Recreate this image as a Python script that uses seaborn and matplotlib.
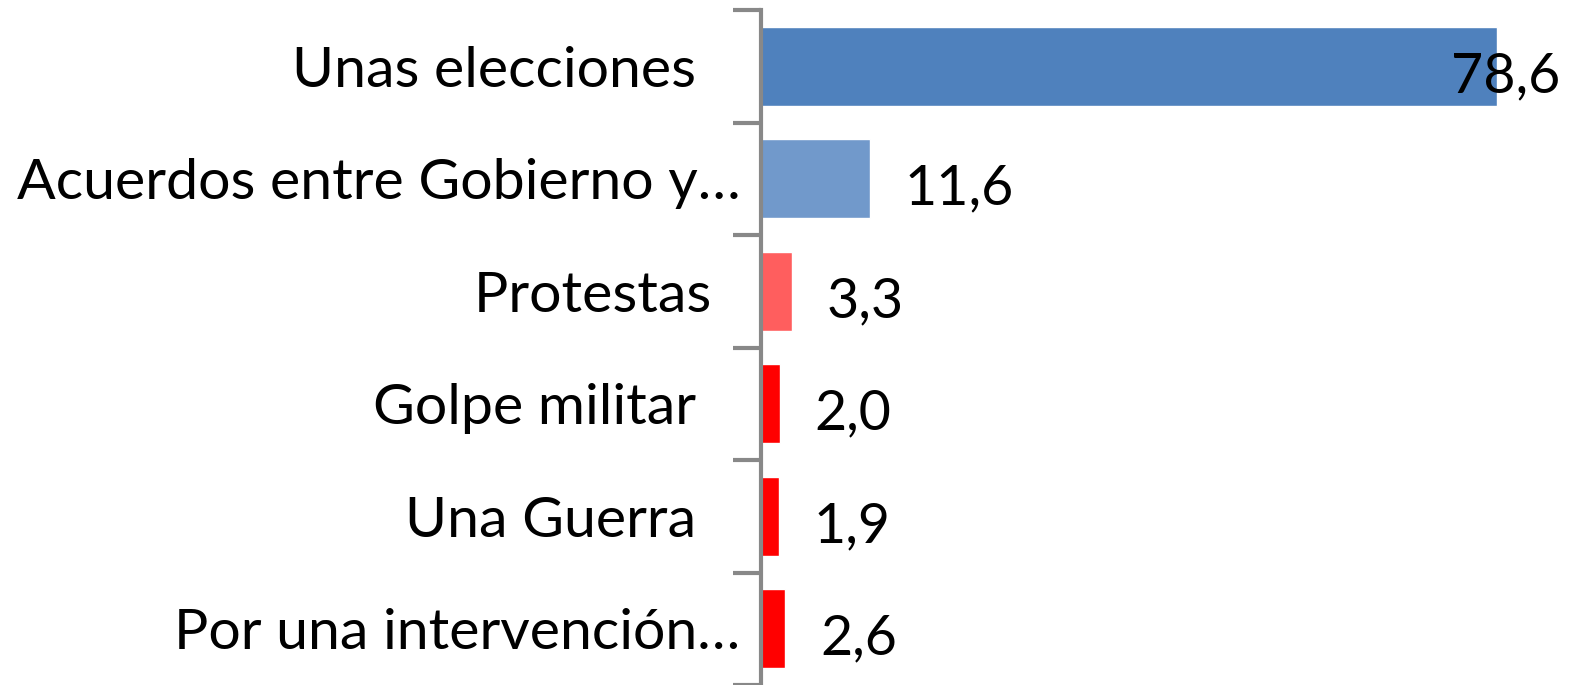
import matplotlib
matplotlib.use("Agg")
import matplotlib.pyplot as plt
import seaborn as sns
import pandas as pd

categories = ["Unas elecciones   ", "Acuerdos entre Gobierno y…", "Protestas  ",
              "Golpe militar   ", "Una Guerra   ", "Por una intervención…"]
values = [78.6, 11.6, 3.3, 2.0, 1.9, 2.6]
value_labels = ["78,6", "11,6", "3,3", "2,0", "1,9", "2,6"]
colors = ["#4F81BD", "#7199CB", "#FF5E5E", "#FF0000", "#FF0000", "#FF0000"]

sns.set_theme(style="white")
plt.rcParams['font.family'] = ['Lato', 'DejaVu Sans']

W, H = 1573, 685
fig = plt.figure(figsize=(W / 100, H / 100), dpi=100)
ax = fig.add_axes([761 / W, 0 / H, (W - 761) / W, (685 - 10) / H])

df = pd.DataFrame({"cat": categories, "val": values})
sns.barplot(data=df, y="cat", x="val", hue="cat", palette=colors,
            orient="h", width=0.7, legend=False, ax=ax, saturation=1)

ppu = 9.36
xmax = (W - 761) / ppu
ax.set_xlim(0, xmax)
ax.set_ylim(5.5, -0.5)
ax.set_xlabel("")
ax.set_ylabel("")
ax.set_xticks([])

# boundary ticks (Excel style), labels at centers
ax.set_yticks([i - 0.5 for i in range(7)])
ax.set_yticklabels([])
ax.set_yticks(range(6), minor=True)
ax.set_yticklabels(categories, minor=True, fontsize=41.2, color="black")
ax.tick_params(axis="y", which="major", length=20, width=3, color="#888888", left=True)
ax.tick_params(axis="y", which="minor", length=0, pad=15, labelcolor="black")

for s in ["top", "right", "bottom"]:
    ax.spines[s].set_visible(False)
ax.spines["left"].set_color("#888888")
ax.spines["left"].set_linewidth(3)

limit = (1560 - 761) / ppu
off = 35 / ppu
for i, (v, lab) in enumerate(zip(values, value_labels)):
    x = v + off
    t = ax.text(x, i + 0.09, lab, ha="left", va="center", fontsize=40, color="black")
    fig.canvas.draw()
    bb = t.get_window_extent()
    if bb.x1 > 1560:
        t.set_x(limit)
        t.set_ha("right")

fig.savefig("out.png", dpi=100)
